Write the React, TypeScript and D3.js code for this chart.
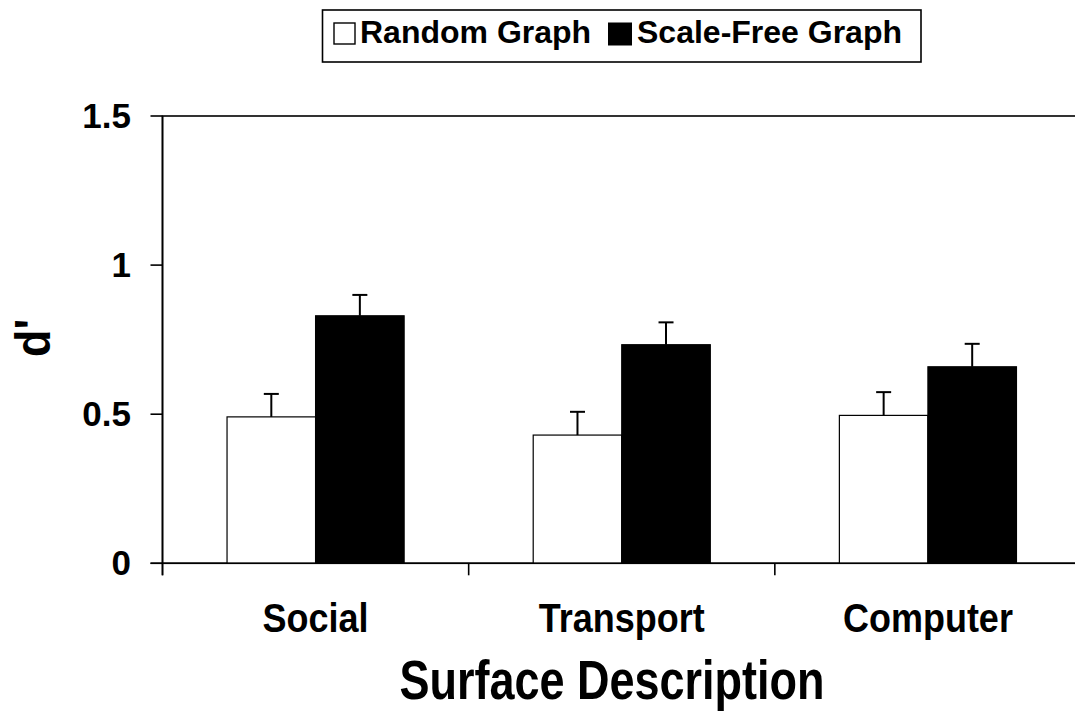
import React from "react";
import * as d3 from "d3";

const categories = ["Social", "Transport", "Computer"];
const seriesNames = ["Random Graph", "Scale-Free Graph"];
const randomValues = [0.491, 0.43, 0.496];
const randomErrors = [0.077, 0.078, 0.078];
const scaleFreeValues = [0.83, 0.733, 0.659];
const scaleFreeErrors = [0.07, 0.075, 0.077];
const yTicks = [0, 0.5, 1, 1.5];
const yTickLabels = ["0", "0.5", "1", "1.5"];

const W = 1075;
const H = 717;
const left = 162.5;
const right = 1081;
const top = 116;
const bottom = 563.3;
const font = "'Liberation Sans', Arial, sans-serif";

export default function App() {
  const y = d3.scaleLinear().domain([0, 1.5]).range([bottom, top]);
  const x0 = d3
    .scaleBand<string>()
    .domain(categories)
    .range([left, right])
    .paddingInner(0.4216)
    .paddingOuter(0.2108);
  const x1 = d3.scaleBand<string>().domain(seriesNames).range([0, x0.bandwidth()]);
  const series = [
    { name: seriesNames[0], values: randomValues, errors: randomErrors, fill: "#ffffff" },
    { name: seriesNames[1], values: scaleFreeValues, errors: scaleFreeErrors, fill: "#000000" },
  ];
  const step = x0.step();
  const catBoundaries = d3.range(categories.length + 1).map((i) => left + i * step);

  return (
    <svg
      width={W}
      height={H}
      style={{ position: "absolute", left: 0, top: 0, background: "#fff" }}
      fontFamily={font}
      fontWeight="bold"
    >
      <rect x={0} y={0} width={W} height={H} fill="#fff" />
      {/* plot frame */}
      <rect x={left} y={top} width={right - left} height={bottom - top} fill="none" stroke="#000" strokeWidth={1.6} />
      {/* bars */}
      {series.map((s) =>
        categories.map((c, i) => {
          const bx = (x0(c) as number) + (x1(s.name) as number);
          const bw = x1.bandwidth();
          const by = y(s.values[i]);
          const cx = bx + bw / 2;
          const ey = y(s.values[i] + s.errors[i]);
          return (
            <g key={s.name + c}>
              <rect x={bx} y={by} width={bw} height={bottom - by} fill={s.fill} stroke="#000" strokeWidth={1.2} />
              <line x1={cx} x2={cx} y1={by} y2={ey} stroke="#000" strokeWidth={2} />
              <line x1={cx - 7.5} x2={cx + 7.5} y1={ey} y2={ey} stroke="#000" strokeWidth={2} />
            </g>
          );
        })
      )}
      {/* axes */}
      <line x1={left} x2={left} y1={top} y2={bottom + 12} stroke="#000" strokeWidth={1.6} />
      <line x1={left - 12} x2={right} y1={bottom} y2={bottom} stroke="#000" strokeWidth={1.6} />
      {yTicks.map((t, i) => (
        <g key={t}>
          <line x1={left - 12} x2={left} y1={y(t)} y2={y(t)} stroke="#000" strokeWidth={1.6} />
          <text x={131} y={y(t) + 11.5} textAnchor="end" fontSize={35}>
            {yTickLabels[i]}
          </text>
        </g>
      ))}
      {catBoundaries.map((bx, i) => (
        <line key={i} x1={bx} x2={bx} y1={bottom} y2={bottom + 12} stroke="#000" strokeWidth={1.6} />
      ))}
      {categories.map((c) => (
        <text
          key={c}
          transform={`translate(${(x0(c) as number) + x0.bandwidth() / 2},632) scale(1,1.15)`}
          textAnchor="middle"
          fontSize={36}
        >
          {c}
        </text>
      ))}
      <text transform="translate(612,699) scale(1,1.25)" textAnchor="middle" fontSize={45}>
        Surface Description
      </text>
      <text transform={`translate(50,338) rotate(-90) scale(1,1.1)`} textAnchor="middle" fontSize={45}>
        d'
      </text>
      {/* legend */}
      <rect x={322.5} y={10} width={598.5} height={52} fill="#fff" stroke="#000" strokeWidth={1.6} />
      <rect x={334} y={23} width={21} height={21} fill="#fff" stroke="#000" strokeWidth={1.4} />
      <text x={360} y={43} fontSize={32}>
        {seriesNames[0]}
      </text>
      <rect x={608.5} y={23} width={23} height={22} fill="#000" stroke="#000" strokeWidth={1} />
      <text x={637} y={43} fontSize={32}>
        {seriesNames[1]}
      </text>
    </svg>
  );
}
